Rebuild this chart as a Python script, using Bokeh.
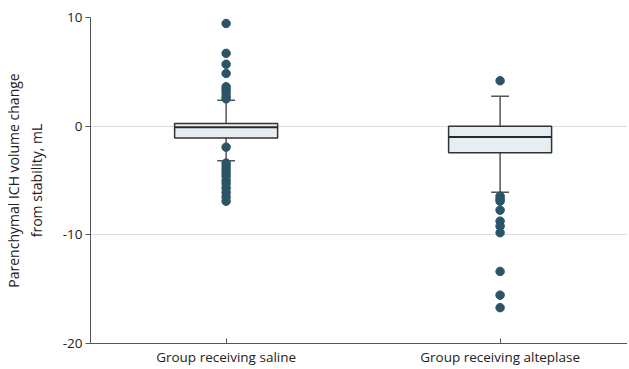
from bokeh.plotting import figure
from bokeh.models import Range1d, FixedTicker, ColumnDataSource
from bokeh.embed import file_html
from bokeh.resources import INLINE

groups = ["Group receiving saline", "Group receiving alteplase"]
positions = [1, 2]
q1 = [-1.1, -2.45]
median = [-0.09, -1.0]
q3 = [0.25, 0.0]
whisker_low = [-3.19, -6.07]
whisker_high = [2.39, 2.76]
saline_outliers = [9.45, 6.7, 5.7, 4.85, 3.62, 3.38, 3.1, 2.76, 2.52,
                   -1.93, -3.4, -3.7, -4.0, -4.3, -4.6, -5.0, -5.3, -5.7, -6.1, -6.5, -6.9]
alteplase_outliers = [4.18, -6.44, -6.7, -6.9, -7.73, -8.74, -9.2, -9.8, -13.37, -15.55, -16.7]
y_ticks = [-20, -10, 0, 10]
y_tick_labels = {-20: "-20", -10: "-10", 0: "0", 10: "10"}

FONT = "Open Sans"
BOX_W = 0.376
CAP_W = 0.065

p = figure(frame_width=537, frame_height=326, output_backend="svg", toolbar_location=None,
           x_range=Range1d(0.505, 2.465), y_range=Range1d(-20, 10),
           min_border_left=82, min_border_top=17, min_border_right=0, min_border_bottom=10)
p.outline_line_color = None
p.background_fill_color = "white"

src = ColumnDataSource(dict(x=positions, q1=q1, q3=q3, med=median, lo=whisker_low, hi=whisker_high,
                            xl=[x - BOX_W / 2 for x in positions], xr=[x + BOX_W / 2 for x in positions],
                            cl=[x - CAP_W / 2 for x in positions], cr=[x + CAP_W / 2 for x in positions]))

# whiskers
p.segment(x0="x", y0="q3", x1="x", y1="hi", source=src, line_color="#555555", line_width=1.5)
p.segment(x0="x", y0="q1", x1="x", y1="lo", source=src, line_color="#555555", line_width=1.5)
p.segment(x0="cl", y0="hi", x1="cr", y1="hi", source=src, line_color="#555555", line_width=1.5)
p.segment(x0="cl", y0="lo", x1="cr", y1="lo", source=src, line_color="#555555", line_width=1.5)
# boxes
p.vbar(x="x", width=BOX_W, bottom="q1", top="q3", source=src,
       fill_color="#e6eef2", line_color="#333333", line_width=1.5)
p.segment(x0="xl", y0="med", x1="xr", y1="med", source=src, line_color="#2a2a2a", line_width=2)

# outliers
ox = [1] * len(saline_outliers) + [2] * len(alteplase_outliers)
oy = saline_outliers + alteplase_outliers
p.scatter(ox, oy, size=8.5, fill_color="#2b5566", line_color="#2b5566")

# axes
p.xgrid.grid_line_color = None
p.ygrid.grid_line_color = "#dddddd"
p.ygrid.ticker = FixedTicker(ticks=[-10, 0, 10])
p.yaxis.ticker = FixedTicker(ticks=y_ticks)
p.yaxis.major_label_overrides = y_tick_labels
p.xaxis.ticker = FixedTicker(ticks=positions)
p.xaxis.major_label_overrides = {1: groups[0], 2: groups[1]}
for ax in (p.xaxis, p.yaxis):
    ax.axis_line_color = "#555555"
    ax.major_tick_line_color = "#555555"
    ax.minor_tick_line_color = None
    ax.major_label_text_font = FONT
    ax.major_label_text_font_size = "13.5px"
    ax.major_label_text_color = "#222222"
    ax.axis_label_text_font = FONT
    ax.axis_label_text_font_size = "14px"
    ax.axis_label_text_font_style = "normal"
    ax.axis_label_text_color = "#222222"
p.xaxis.major_tick_in = 5
p.xaxis.major_tick_out = 0
p.yaxis.major_tick_in = 0
p.yaxis.major_tick_out = 5
p.yaxis.axis_label = "Parenchymal ICH volume change\nfrom stability, mL"
p.yaxis.axis_label_standoff = 14
p.yaxis.major_label_standoff = 3
p.xaxis.major_label_standoff = 4

open("out.html", "w").write(file_html(p, INLINE))
